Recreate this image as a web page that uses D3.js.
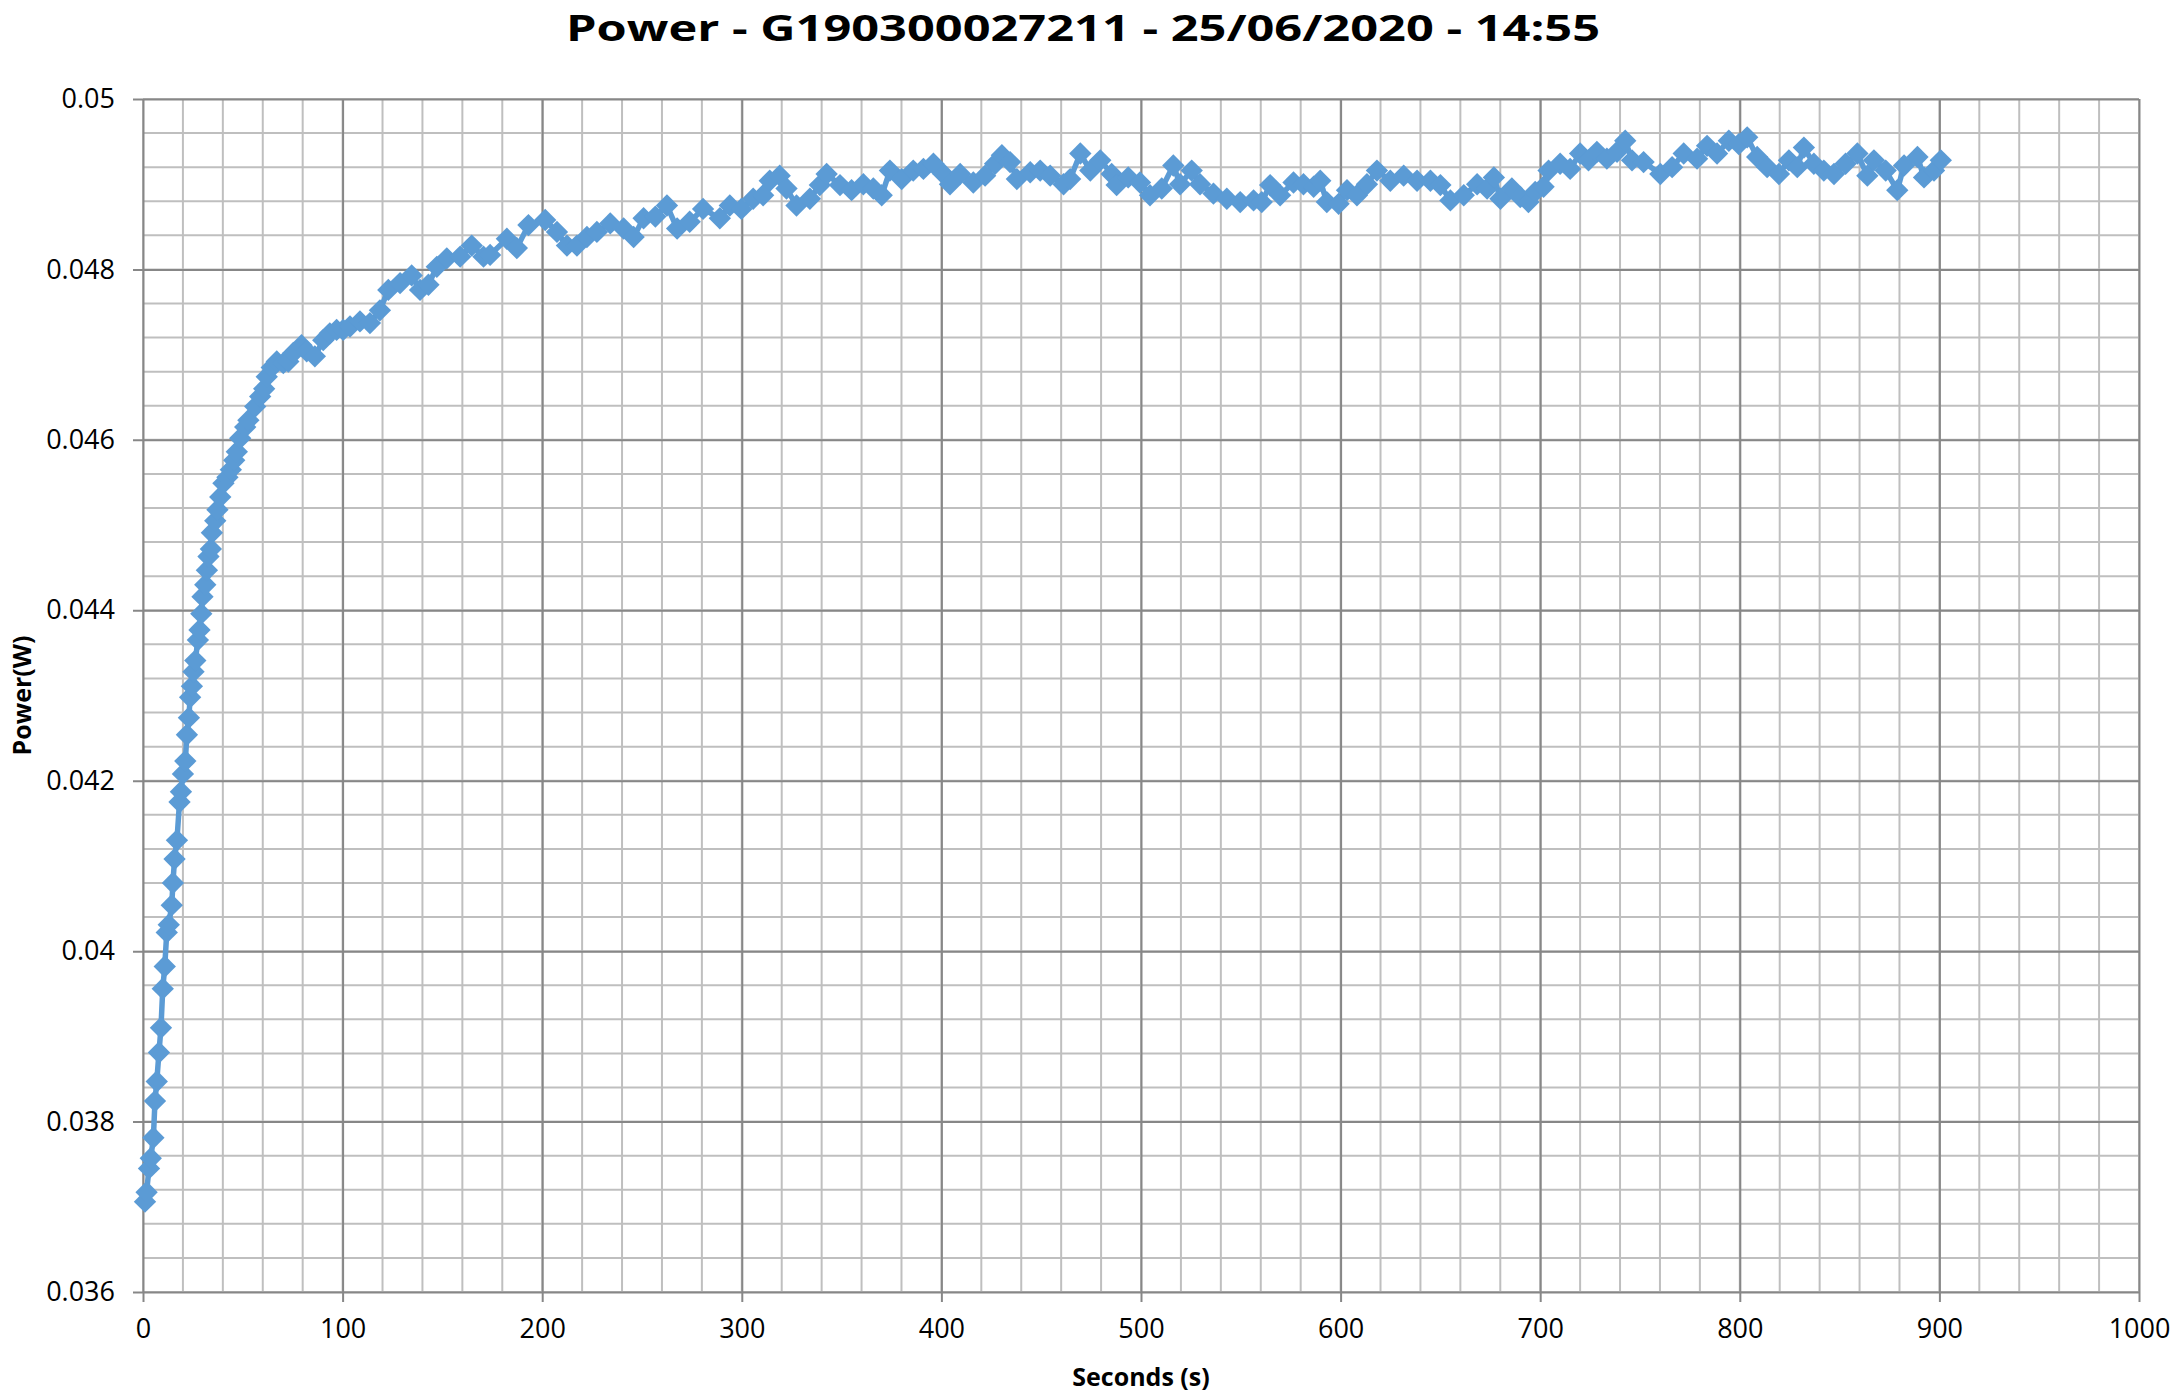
<!DOCTYPE html>
<html>
<head>
<meta charset="utf-8">
<script src="https://cdn.jsdelivr.net/npm/d3@7"></script>
<style>
  body { margin: 0; background: #fff; }
  text { font-family: "Open Sans", sans-serif; }
</style>
</head>
<body>
<svg id="chart" width="2174" height="1398"></svg>
<script>
const TITLE = 'Power - G190300027211 - 25/06/2020 - 14:55';

// samples (seconds, watts)
const seconds = [
	1.0, 1.8, 3.0, 3.9, 5.2, 6.0, 6.9, 8.0, 9.0, 9.9, 10.9, 11.9, 12.9, 14.4,
	15.0, 15.8, 17.0, 18.3, 19.0, 20.0, 21.2, 22.0, 23.0, 23.6, 24.5, 25.3, 26.2,
	27.5, 28.3, 29.2, 29.8, 31.2, 32.0, 32.8, 34.0, 34.5, 36.2, 37.3, 38.7, 40.3,
	42.3, 44.0, 45.7, 47.0, 48.7, 51.2, 52.8, 56.2, 58.7, 60.7, 62.0, 64.5, 67.0,
	70.3, 72.8, 75.3, 79.4, 82.0, 86.1, 90.3, 93.6, 97.0, 100.3, 103.7, 108.7,
	113.7, 118.7, 122.9, 128.8, 134.6, 138.8, 143.0, 147.2, 152.2, 158.9, 164.7,
	170.6, 173.9, 182.3, 187.3, 193.1, 201.5, 207.4, 212.4, 217.4, 222.4, 227.4,
	234.1, 240.8, 245.8, 250.8, 256.7, 262.5, 267.6, 273.9, 280.6, 289.0, 294.0,
	299.8, 305.7, 310.7, 314.0, 319.0, 322.4, 327.4, 334.1, 339.1, 342.5, 349.2,
	355.0, 360.9, 365.9, 370.1, 374.2, 380.1, 385.9, 391.0, 396.0, 401.0, 404.3,
	409.4, 416.0, 421.9, 426.9, 430.3, 434.4, 437.8, 444.5, 449.5, 454.5, 461.2,
	464.5, 469.6, 474.6, 479.6, 485.3, 487.8, 493.6, 499.5, 504.5, 510.4, 516.2,
	519.6, 525.4, 529.6, 536.3, 543.0, 549.7, 556.4, 560.5, 564.7, 569.7, 576.4,
	581.4, 586.5, 589.8, 593.1, 599.0, 603.2, 608.2, 613.2, 618.2, 624.9, 631.6,
	638.3, 645.0, 650.0, 655.0, 661.7, 668.4, 673.4, 676.8, 680.1, 685.8, 690.0,
	694.1, 697.5, 701.7, 704.2, 710.0, 715.0, 720.0, 724.2, 728.4, 733.4, 738.5,
	742.6, 746.0, 751.8, 760.2, 766.1, 771.9, 778.6, 783.6, 788.6, 794.5, 799.5,
	803.7, 808.7, 813.7, 819.6, 824.6, 828.8, 832.1, 837.1, 842.1, 847.2, 853.0,
	858.9, 863.9, 867.2, 873.1, 878.9, 882.3, 889.0, 892.3, 897.3, 900.7
];
const power = [
	0.03706, 0.03717, 0.03745, 0.03757, 0.03781, 0.03824, 0.03847, 0.03881, 0.03910, 0.03956, 0.03982, 0.04022, 0.04031, 0.04054,
	0.04080, 0.04108, 0.04130, 0.04175, 0.04187, 0.04208, 0.04223, 0.04254, 0.04274, 0.04298, 0.04311, 0.04328, 0.04341,
	0.04365, 0.04377, 0.04396, 0.04416, 0.04430, 0.04447, 0.04463, 0.04472, 0.04491, 0.04505, 0.04518, 0.04533, 0.04549,
	0.04556, 0.04565, 0.04576, 0.04586, 0.04602, 0.04615, 0.04623, 0.04639, 0.04651, 0.04660, 0.04674, 0.04685, 0.04692,
	0.04690, 0.04692, 0.04702, 0.04711, 0.04704, 0.04698, 0.04717, 0.04725, 0.04729, 0.04729, 0.04733, 0.04739,
	0.04737, 0.04752, 0.04776, 0.04784, 0.04793, 0.04776, 0.04782, 0.04803, 0.04813, 0.04815, 0.04828,
	0.04815, 0.04817, 0.04836, 0.04825, 0.04852, 0.04858, 0.04844, 0.04828, 0.04828, 0.04838, 0.04844,
	0.04854, 0.04848, 0.04838, 0.04860, 0.04862, 0.04875, 0.04848, 0.04856, 0.04871, 0.04860, 0.04875,
	0.04871, 0.04883, 0.04887, 0.04904, 0.04910, 0.04895, 0.04875, 0.04883, 0.04899, 0.04912, 0.04899,
	0.04893, 0.04900, 0.04895, 0.04887, 0.04916, 0.04906, 0.04916, 0.04918, 0.04924, 0.04912, 0.04900,
	0.04912, 0.04902, 0.04910, 0.04924, 0.04934, 0.04926, 0.04906, 0.04914, 0.04916, 0.04910, 0.04900,
	0.04906, 0.04936, 0.04916, 0.04928, 0.04912, 0.04899, 0.04908, 0.04902, 0.04887, 0.04895, 0.04922,
	0.04900, 0.04916, 0.04900, 0.04889, 0.04883, 0.04879, 0.04881, 0.04879, 0.04899, 0.04887, 0.04902,
	0.04900, 0.04897, 0.04904, 0.04879, 0.04877, 0.04893, 0.04887, 0.04900, 0.04916, 0.04904, 0.04910,
	0.04904, 0.04904, 0.04899, 0.04881, 0.04887, 0.04900, 0.04895, 0.04908, 0.04883, 0.04895, 0.04885,
	0.04879, 0.04891, 0.04897, 0.04916, 0.04924, 0.04918, 0.04936, 0.04928, 0.04938, 0.04930, 0.04938,
	0.04951, 0.04928, 0.04926, 0.04912, 0.04920, 0.04936, 0.04930, 0.04945, 0.04936, 0.04951, 0.04947,
	0.04955, 0.04932, 0.04920, 0.04912, 0.04928, 0.04920, 0.04943, 0.04924, 0.04916, 0.04912, 0.04924,
	0.04936, 0.04910, 0.04928, 0.04916, 0.04893, 0.04922, 0.04932, 0.04908, 0.04916, 0.04928
];

const xTicks = [0, 100, 200, 300, 400, 500, 600, 700, 800, 900, 1000];
const yTicks = [0.036, 0.038, 0.04, 0.042, 0.044, 0.046, 0.048, 0.05];
const yTickLabels = ['0.036', '0.038', '0.04', '0.042', '0.044', '0.046', '0.048', '0.05'];

const width = 2174, height = 1398,
	margin = { top: 99, right: 35, bottom: 106, left: 143 };

const svg = d3.select('#chart');

const x = d3.scaleLinear().domain([0, 1000]).range([margin.left, width - margin.right]),
	y = d3.scaleLinear().domain([0.036, 0.05]).range([height - margin.bottom, margin.top]);

// minor grid
const grid = svg.append('g');
grid.selectAll('line.vx').data(d3.range(0, 1001, 20)).join('line')
	.attr('x1', d => x(d)).attr('x2', d => x(d))
	.attr('y1', y(0.05)).attr('y2', y(0.036))
	.attr('stroke', '#bfbfbf').attr('stroke-width', 2);
grid.selectAll('line.hy').data(d3.range(0, 36).map(i => 0.036 + i * 0.0004)).join('line')
	.attr('x1', x(0)).attr('x2', x(1000))
	.attr('y1', d => y(d)).attr('y2', d => y(d))
	.attr('stroke', '#bfbfbf').attr('stroke-width', 2);

// major grid + axes
svg.append('g')
	.attr('transform', `translate(0,${y(0.036)})`)
	.call(d3.axisBottom(x).tickValues(xTicks).tickFormat(d3.format('d'))
		.tickSize(-(y(0.036) - y(0.05))).tickSizeOuter(0).tickPadding(20))
	.call(g => g.select('.domain').remove())
	.call(g => g.selectAll('.tick line').attr('stroke', '#878787').attr('stroke-width', 2).attr('y1', 10))
	.call(g => g.selectAll('.tick text').attr('font-size', 27).attr('fill', '#000').attr('dy', '0.95em'));

svg.append('g')
	.attr('transform', `translate(${x(0)},0)`)
	.call(d3.axisLeft(y).tickValues(yTicks).tickFormat((d, i) => yTickLabels[i])
		.tickSize(-(x(1000) - x(0))).tickSizeOuter(0).tickPadding(28))
	.call(g => g.select('.domain').remove())
	.call(g => g.selectAll('.tick line').attr('stroke', '#878787').attr('stroke-width', 2).attr('x1', -10))
	.call(g => g.selectAll('.tick text').attr('font-size', 27).attr('fill', '#000'));

// series
const pts = seconds.map((s, i) => [s, power[i]]);

svg.append('path')
	.datum(pts)
	.attr('fill', 'none')
	.attr('stroke', '#5b9bd5')
	.attr('stroke-width', 5.5)
	.attr('stroke-linejoin', 'round')
	.attr('d', d3.line().x(d => x(d[0])).y(d => y(d[1])));

svg.append('g').selectAll('path').data(pts).join('path')
	.attr('d', d3.symbol(d3.symbolSquare, 250))
	.attr('transform', d => `translate(${x(d[0])},${y(d[1])}) rotate(45)`)
	.attr('fill', '#5b9bd5');

// titles
svg.append('text')
	.attr('x', 1083).attr('y', 41)
	.attr('text-anchor', 'middle')
	.attr('font-size', 35).attr('font-weight', 700)
	.attr('textLength', 1034).attr('lengthAdjust', 'spacingAndGlyphs')
	.text(TITLE);

svg.append('text')
	.attr('x', x(500)).attr('y', 1386)
	.attr('text-anchor', 'middle')
	.attr('font-size', 25).attr('font-weight', 700)
	.text('Seconds (s)');

svg.append('text')
	.attr('transform', `translate(31,${y(0.043)}) rotate(-90)`)
	.attr('text-anchor', 'middle')
	.attr('font-size', 25).attr('font-weight', 700)
	.text('Power(W)');
</script>
</body>
</html>
